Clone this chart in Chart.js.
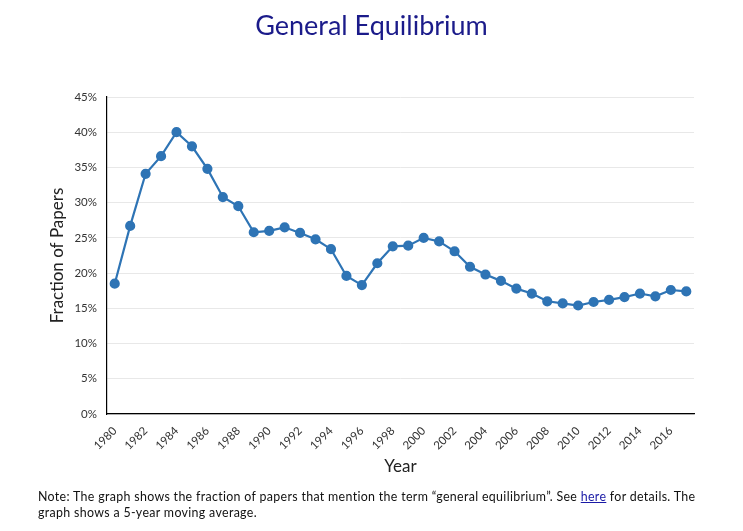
<!DOCTYPE html>
<html>
<head>
<meta charset="utf-8">
<script src="https://cdn.jsdelivr.net/npm/chart.js@4"></script>
<style>
  body { margin: 0; background: #fff; }
  #wrap { position: relative; width: 743px; height: 531px; }
  #title { position: absolute; left: 0; top: 8px; width: 743px; text-align: center;
           font-family: Lato, sans-serif; font-size: 27px; color: #1b1b8a; }
  #note { position: absolute; left: 38px; top: 489px; width: 700px; white-space: nowrap;
          font-family: Lato, sans-serif; font-size: 12.4px; letter-spacing: 0.33px;
          line-height: 16px; color: #111; }
  #note a { color: #1a1aa6; }
  canvas { position: absolute; left: 0; top: 0; }
</style>
</head>
<body>
<div id="wrap">
  <canvas id="chart" width="743" height="531"></canvas>
  <div id="title">General Equilibrium</div>
  <div id="note">Note: The graph shows the fraction of papers that mention the term &ldquo;general equilibrium&rdquo;. See <a href="#">here</a> for details. The<br>graph shows a 5-year moving average.</div>
</div>
<script>
const years = [1980, 1981, 1982, 1983, 1984, 1985, 1986, 1987, 1988, 1989,
    1990, 1991, 1992, 1993, 1994, 1995, 1996, 1997, 1998, 1999,
    2000, 2001, 2002, 2003, 2004, 2005, 2006, 2007, 2008, 2009,
    2010, 2011, 2012, 2013, 2014, 2015, 2016, 2017];
const share = [18.5, 26.7, 34.1, 36.6, 40.0, 38.0, 34.8, 30.8, 29.5, 25.8,
    26.0, 26.5, 25.7, 24.8, 23.4, 19.6, 18.3, 21.4, 23.8, 23.9,
    25.0, 24.5, 23.1, 20.9, 19.8, 18.9, 17.8, 17.1, 16.0, 15.7,
    15.4, 15.9, 16.2, 16.6, 17.1, 16.7, 17.6, 17.4];
const yTicks = [0, 5, 10, 15, 20, 25, 30, 35, 40, 45];

const ctx = document.getElementById('chart').getContext('2d');
const chart = new Chart(ctx, {
    type: 'line',
    data: {
        labels: years.map(String),
        datasets: [{
            data: share,
            borderColor: '#2e74b5',
            backgroundColor: '#2e74b5',
            borderWidth: 2.2,
            pointBackgroundColor: '#2e74b5',
            pointBorderColor: '#2e74b5',
            pointRadius: 4,
            tension: 0
        }]
    },
    options: {
        responsive: false,
        animation: false,
        layout: { padding: { top: 97, left: 47, right: 49, bottom: 54 } },
        plugins: { legend: { display: false }, tooltip: { enabled: false } },
        scales: {
            y: {
                min: 0,
                max: 45,
                afterFit: s => { s.width = 60; },
                afterBuildTicks: s => { s.ticks = yTicks.map(v => ({ value: v })); },
                ticks: {
                    callback: v => v + '%',
                    color: '#333',
                    padding: 10,
                    font: { family: 'Lato', size: 11.5 }
                },
                grid: { color: '#e8e8e8', drawTicks: false },
                border: { display: true, color: '#000', width: 1.2 },
                title: {
                    display: true,
                    text: 'Fraction of Papers',
                    color: '#222',
                    font: { family: 'Lato', size: 17 },
                    padding: 0
                }
            },
            x: {
                offset: true,
                afterFit: s => { s.height = 63; },
                ticks: {
                    autoSkip: false,
                    minRotation: 45,
                    maxRotation: 45,
                    color: '#333',
                    padding: 2,
                    font: { family: 'Lato', size: 11.5 },
                    callback: (v, i) => (i % 2 === 0 ? years[i] : '')
                },
                grid: { display: false },
                border: { display: true, color: '#000', width: 1.2 },
                title: {
                    display: true,
                    text: 'Year',
                    color: '#222',
                    font: { family: 'Lato', size: 17 },
                    padding: 0
                }
            }
        }
    }
});
</script>
</body>
</html>
